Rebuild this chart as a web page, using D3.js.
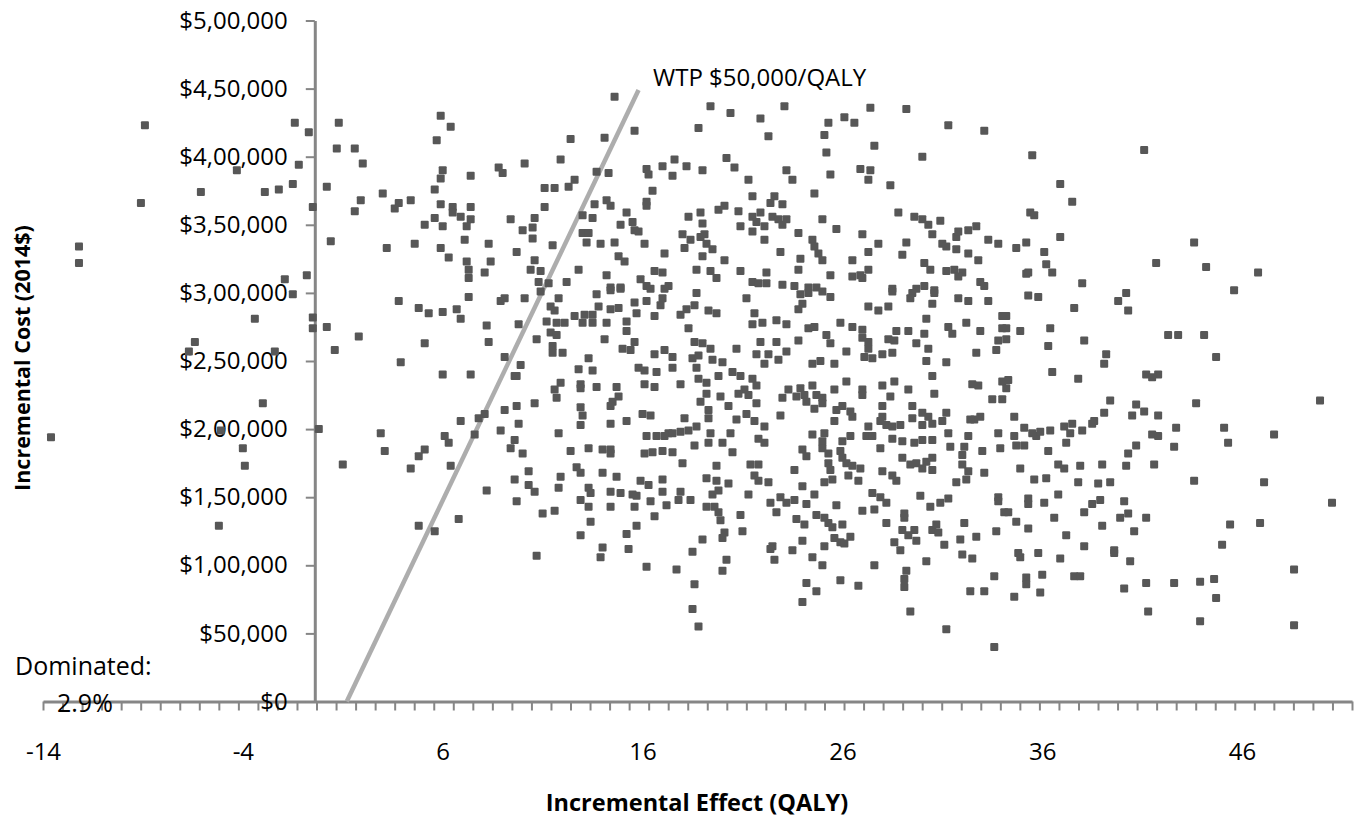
<!DOCTYPE html>
<html><head><meta charset="utf-8">
<script src="https://cdn.jsdelivr.net/npm/d3@7"></script>
<style>
body{margin:0;background:#fff;}
svg{display:block;}
text{font-family:"Open Sans",sans-serif;fill:#000;}
</style>
</head><body>
<svg id="chart" width="1365" height="825"></svg>
<script>
// ---------- data ----------
const xTicks = [-14, -4, 6, 16, 26, 36, 46];
const yTicks = [0, 50000, 100000, 150000, 200000, 250000, 300000, 350000, 400000, 450000, 500000];
const yTickLabels = ["$0", "$50,000", "$1,00,000", "$1,50,000", "$2,00,000", "$2,50,000", "$3,00,000", "$3,50,000", "$4,00,000", "$4,50,000", "$5,00,000"];
const xTitle = "Incremental Effect (QALY)";
const yTitle = "Incremental Cost (2014$)";
const wtpLabel = "WTP $50,000/QALY";
const dominatedLabel = ["Dominated:", "2.9%"];
// WTP threshold line end points [effect, cost]
const wtpLine = [[1.2, 0], [15.8, 449000]];
// simulated points [effect QALY, cost in $ thousands]
const dominatedPoints = [
[-8.9,423],[-1.4,425],[-0.7,418],[-1.2,394],[-4.3,390],[-6.1,374],[-2.9,374],[-2.2,376],[-1.5,380],[-0.5,363],[-9.1,366],[-12.2,334],[-12.2,322],[-1.9,310],[-0.8,313],[-1.5,299],[-3.4,281],[-0.5,282],[-0.5,274],[-6.4,264],[-6.7,257],[-2.4,257],[-3.0,219],[-13.6,194],[-0.2,200],[-5.1,199],[-4.0,186],[-3.9,173],[-5.2,129]
];
const pointsLowEffect = [
[0.8,425],[0.7,406],[0.2,378],[0.4,338],[0.2,275],[0.6,258],[1.0,174],
[1.6,406],[2.0,395],[5.9,430],[6.4,422],[5.7,412],[14.6,444],[15.6,419],[12.4,413],[14.1,414],[11.9,398],[10.1,395],[8.8,392],[9.0,388],[6.0,390],[5.9,384],[7.4,386],[5.6,376],[3.0,373],[1.9,368],[1.6,360],[3.8,366],[3.6,362],[4.4,368],[5.9,365],[6.5,363],[6.5,359],[6.9,356],[7.4,363],[5.6,355],[6.0,349],[5.1,350],[7.4,354],[7.2,349],[7.1,339],[8.3,336],[5.9,333],[6.3,326],[7.2,323],[7.3,317],[7.3,311],[8.1,315],[8.4,323],[3.2,333],[4.6,336],[9.7,330],[9.4,354],[10.6,355],[10.5,348],[10.0,346],[10.5,340],[11.1,363],[11.1,377],[11.6,377],[12.3,378],[12.6,383],[11.5,335],[10.6,324],[10.4,317],[10.9,316],[10.8,308],[11.3,307],[12.2,308],[12.8,317],[13.7,389],[14.3,388],[13.6,365],[14.2,368],[14.4,364],[13.0,357],[13.5,355],[13.0,344],[13.3,344],[13.2,337],[13.9,336],[14.6,337],[14.9,350],[15.2,359],[15.5,352],[15.6,346],[15.8,345],[16.1,336],[17.1,329],[14.8,327],[15.1,323],[14.2,313],[14.4,304],[14.9,304],[15.9,310],[16.2,305],[16.6,316],[17.0,315],[17.3,305],[16.2,391],[16.3,387],[17.0,393],[16.5,375],[16.2,367],[16.2,364],
[3.8,294],[4.8,289],[5.3,285],[6.0,286],[6.7,288],[6.9,281],[7.3,297],[8.9,294],[9.1,296],[10.1,296],[8.2,276],[9.8,277],[8.3,264],[1.8,268],[5.1,263],[3.9,249],[9.1,253],[9.9,247],[9.6,239],[9.7,239],[6.0,240],[7.4,240],[10.9,301],[11.8,296],[11.4,290],[11.6,287],[11.2,279],[11.7,278],[12.1,278],[12.6,283],[13.1,284],[13.5,284],[13.0,278],[13.5,278],[14.2,278],[13.8,290],[13.7,299],[14.4,288],[14.8,289],[14.4,302],[14.9,303],[15.6,293],[15.7,285],[16.2,294],[16.6,283],[16.4,303],[17.1,303],[17.0,296],[16.9,291],[15.2,279],[15.2,272],[14.1,266],[10.7,266],[11.4,271],[11.7,269],[11.5,261],[11.5,256],[12.0,256],[15.0,259],[15.4,258],[15.6,264],[16.6,255],[17.1,258],[13.3,252],[12.8,244],[13.5,243],[15.8,245],[16.1,243],[16.7,242],[11.9,234],[11.6,229],[11.7,223],[12.9,233],[12.9,230],[13.7,231],[14.7,231],[14.8,224],[14.5,220],[14.4,217],[16.1,233],[16.6,231],[12.9,216],[13.0,210],[12.9,203],[14.4,204],[15.2,206],[16.0,211],[16.4,210],[10.6,219],[9.7,217],[9.1,214],[8.1,211],[7.8,208],[6.9,206],[9.8,204],[8.9,199],[9.6,192],[9.4,186],[10.0,182],[7.6,196],[6.1,195],[6.3,190],[2.9,197],[3.1,184],[5.1,185],[4.8,180],[4.4,171],[6.4,173],[11.8,197],[12.4,184],[13.3,186],[14.0,185],[14.4,185],[14.4,182],[16.2,195],[16.7,195],[17.1,195],[17.3,197],[16.1,182],[16.5,183],[17.0,184],[12.7,172],[12.9,168],[14.0,168],[14.7,165],[10.3,169],[9.6,163],[10.3,159],[11.9,165],[15.9,162],[16.3,159],[17.0,163],
[8.2,155],[9.7,147],[10.6,154],[11.8,157],[11.0,138],[11.6,140],[13.3,157],[13.4,153],[12.9,148],[13.3,143],[14.4,154],[14.9,153],[14.4,143],[15.5,152],[15.7,151],[15.6,143],[17.0,154],[16.4,147],[17.2,144],[16.6,136],[15.7,129],[15.2,123],[15.3,112],[13.4,132],[12.9,122],[14.0,113],[13.9,106],[10.7,107],[16.2,99],[4.8,129],[5.6,125],[6.8,134]
];
const pointsMidEffect = [
[19.4,437],[20.4,432],[18.8,421],[21.9,428],[23.1,437],[22.3,415],[25.3,425],[25.1,416],[26.1,429],[26.6,425],[27.4,436],[29.2,435],[31.3,423],[33.1,419],[27.6,408],[25.2,403],[30.0,400],[17.6,398],[18.2,393],[17.5,386],[19.0,390],[20.2,399],[20.6,392],[21.3,383],[23.2,390],[23.5,383],[25.4,387],[26.9,391],[27.4,390],[27.3,383],[28.4,379],[21.5,371],[22.6,371],[22.4,366],[24.6,373],[23.0,365],[25.0,354],[25.7,347],[20.1,364],[19.8,361],[20.8,360],[18.3,356],[18.9,359],[19.0,351],[20.9,349],[21.5,356],[21.9,359],[21.7,352],[21.5,345],[22.1,349],[22.5,356],[22.8,354],[23.2,354],[23.0,350],[22.1,339],[18.0,343],[18.1,333],[18.4,339],[18.9,341],[19.1,343],[19.2,336],[19.5,332],[19.0,327],[20.1,324],[18.7,317],[19.4,316],[19.7,311],[20.9,316],[22.2,315],[21.5,308],[21.8,307],[22.2,307],[23.0,306],[23.6,305],[22.9,330],[23.8,344],[24.5,339],[24.6,334],[24.8,329],[25.0,324],[23.9,325],[23.8,317],[25.4,313],[24.3,304],[24.7,304],[26.5,324],[26.5,312],[26.9,313],[27.0,311],[27.3,317],[27.3,330],[27.8,336],[27.0,343],[28.8,359],[29.6,356],[30.0,354],[30.3,350],[30.9,353],[30.5,343],[29.2,337],[29.0,328],[30.1,322],[30.4,317],[31.0,336],[31.2,334],[31.7,332],[31.7,341],[31.8,345],[32.3,346],[32.7,349],[33.3,339],[33.8,336],[32.3,329],[32.8,324],[31.2,316],[31.6,317],[32.0,315],[31.8,312],[32.9,308],[33.1,305],[29.7,303],[30.1,305],[30.6,302],[28.5,303],
[18.7,300],[18.2,288],[17.9,284],[18.6,291],[19.3,287],[19.7,285],[18.3,274],[17.5,253],[17.5,245],[21.2,296],[21.6,285],[21.5,277],[22.0,278],[22.7,280],[23.2,277],[23.9,299],[24.0,292],[23.8,288],[24.3,300],[25.4,297],[25.0,301],[24.3,274],[24.6,275],[23.8,265],[25.2,269],[25.4,263],[21.9,264],[22.7,264],[21.7,255],[22.3,255],[23.2,257],[22.8,251],[22.1,248],[20.7,259],[18.6,264],[19.0,263],[19.4,259],[18.5,252],[18.8,254],[19.5,251],[20.0,249],[18.7,245],[18.8,237],[19.2,234],[19.2,226],[19.8,239],[20.5,242],[20.9,239],[17.9,233],[21.5,237],[21.7,232],[21.1,229],[20.8,226],[21.3,225],[21.7,219],[19.9,224],[20.3,217],[18.9,220],[19.3,214],[19.3,208],[18.1,208],[18.7,202],[18.3,199],[17.9,198],[17.5,197],[19.4,197],[20.4,197],[19.3,190],[20.0,190],[18.6,188],[20.5,183],[17.5,183],[18.0,175],[19.7,173],[21.2,211],[20.7,207],[21.6,206],[22.1,202],[21.8,193],[22.1,190],[21.4,174],[21.8,174],[21.6,166],[21.8,162],[22.3,161],[19.2,164],[19.7,162],[20.3,160],[22.9,210],[23.3,229],[23.0,223],[23.9,230],[23.7,224],[24.1,225],[24.2,220],[24.5,232],[24.7,225],[25.0,223],[24.6,215],[25.0,219],[25.6,229],[26.2,235],[25.7,214],[26.0,217],[26.4,213],[26.5,209],[25.6,206],[24.5,196],[25.1,197],[25.0,191],[25.0,186],[25.3,182],[24.0,185],[24.2,180],[25.3,175],[25.4,170],[25.1,161],[25.5,163],[25.9,184],[26.0,179],[26.0,191],[26.4,195],[26.2,175],[26.5,173],[26.9,171],[26.3,166],[26.8,162],[23.6,170],[24.0,158],[27.0,229],[27.0,225],[28.0,232],[28.6,235],[28.4,224],[29.3,229],[30.6,226],[28.0,217],[28.0,209],[27.9,206],[28.2,203],[28.5,202],[28.9,203],[27.3,202],[27.2,195],[27.5,195],[28.5,193],[29.0,191],[29.6,190],[30.0,192],[30.5,192],[27.9,186],[29.5,217],[29.5,208],[30.0,212],[30.3,209],[30.0,203],[30.5,204],[31.0,206],[31.2,212],[31.3,197],[31.4,187],[29.0,179],[29.4,174],[29.7,175],[30.2,176],[30.5,179],[30.0,171],[30.5,170],[28.0,169],[28.5,166],[28.7,162],[32.1,187],[32.0,181],[33.0,184],[32.3,195],[32.9,209],[32.6,207],[32.4,207],[32.0,174],[32.3,169],[33.1,168],[31.7,161],[32.2,163],[33.8,197],[33.9,186],[33.5,222],[34.0,222],[34.0,235],[32.5,233],[32.8,232],[31.2,249],[30.5,239],[30.2,250],[30.1,270],[29.7,263],[30.3,259],[30.2,281],[29.3,272],[28.7,272],[28.5,256],[28.3,266],[28.6,265],[27.5,252],[28.0,255],[27.3,259],[27.0,267],[27.3,264],[27.1,253],[26.5,275],[27.0,273],[25.9,278],[26.2,257],[25.6,248],[24.9,250],[24.5,248],[27.3,290],[27.8,287],[28.3,290],[28.5,301],[29.5,300],[29.4,296],[30.6,300],[30.5,292],[31.8,296],[32.3,294],[33.3,294],[31.3,275],[31.5,270],[32.2,278],[32.9,272],[34.0,283],[34.0,274],[33.8,265],[33.7,258],[32.7,256],
[17.9,154],[17.8,148],[18.4,148],[19.2,143],[19.6,143],[19.8,139],[19.9,133],[19.5,152],[19.8,155],[20.1,124],[20.0,120],[20.9,137],[21.0,125],[21.3,152],[19.0,119],[18.5,110],[17.7,97],[18.6,86],[18.5,68],[18.8,55],[20.2,104],[20.0,96],[22.4,146],[22.9,150],[23.2,146],[23.6,148],[22.7,139],[24.6,152],[24.2,145],[23.7,134],[24.1,130],[24.7,137],[25.1,135],[25.3,131],[25.5,128],[25.7,144],[26.0,130],[25.6,120],[25.9,117],[26.1,116],[26.4,121],[24.0,118],[25.1,114],[22.5,114],[22.4,112],[22.6,104],[23.5,111],[24.5,106],[25.0,100],[24.2,87],[24.7,81],[24.0,73],[25.9,89],[26.8,85],[27.0,140],[27.6,141],[27.5,153],[27.9,150],[28.2,146],[28.2,131],[27.6,100],[29.1,138],[29.1,135],[29.0,126],[29.6,126],[29.3,122],[29.7,118],[28.6,117],[28.9,111],[29.9,151],[30.4,143],[30.9,146],[31.3,149],[30.5,126],[30.7,130],[30.8,124],[31.1,115],[30.2,103],[29.2,96],[29.1,90],[29.1,84],[29.4,66],[31.2,53],[32.1,131],[31.9,119],[32.7,121],[32.0,108],[32.5,105],[32.4,81],[33.1,81],[33.6,92],[33.7,125],[33.8,150],[33.8,147],[34.1,139],[33.6,40]
];
const pointsHighEffect = [
[35.5,401],[41.1,405],[36.9,380],[37.5,367],[35.4,359],[35.6,357],[36.9,341],[35.2,337],[34.7,333],[36.1,330],[36.2,321],[36.5,315],[35.2,314],[35.3,315],[38.0,307],[43.6,337],[41.7,322],[44.2,319],[46.8,315],
[40.2,300],[39.8,294],[40.3,287],[45.6,302],[35.3,298],[35.8,297],[37.6,289],[34.2,283],[34.2,274],[34.2,266],[34.9,272],[36.4,274],[36.3,261],[38.1,265],[42.3,269],[42.8,269],[44.1,269],[44.7,253],[39.2,255],[39.1,248],[36.5,242],[37.8,237],[34.3,236],[34.2,230],[41.2,240],[41.8,240],[41.5,238],[39.4,221],[40.7,218],[41.1,213],[40.5,210],[41.8,210],[39.1,212],[38.6,206],[38.5,204],[43.7,219],[49.9,221],[34.6,209],[35.1,201],[34.6,195],[35.5,197],[35.7,195],[35.9,198],[36.4,199],[37.1,202],[37.5,204],[37.4,197],[38.0,199],[37.2,190],[34.7,188],[35.1,188],[36.3,184],[41.5,196],[41.8,195],[42.7,201],[42.6,187],[45.1,201],[45.3,190],[47.6,196],[40.7,188],[40.3,182],[41.6,174],[40.2,173],[39.0,174],[37.9,173],[36.8,174],[37.1,171],[34.9,171],[35.6,163],[36.2,164],[37.8,161],[38.8,160],[39.4,161],[43.6,162],[47.1,161],
[35.3,149],[35.3,145],[34.3,139],[34.7,132],[35.3,127],[36.1,146],[36.8,152],[36.6,135],[37.2,122],[38.1,139],[38.5,145],[38.9,148],[39.0,129],[40.1,147],[39.9,135],[40.3,138],[41.2,135],[40.6,125],[38.1,114],[39.6,111],[39.6,109],[40.4,103],[34.9,106],[34.8,109],[35.8,109],[36.9,105],[35.2,91],[35.2,86],[36.0,93],[37.6,92],[37.9,92],[34.6,77],[35.9,80],[40.1,83],[41.2,87],[42.6,87],[43.9,88],[44.6,90],[44.7,76],[41.3,66],[43.9,59],[45.4,130],[46.9,131],[45.0,115],[48.6,97],[48.6,56],[50.5,146]
];

// ---------- layout ----------
const svg = d3.select("#chart");
const axisColor = "#868686";
const x = d3.scaleLinear().domain([-14, 51.5]).range([43, 1352]);
const y = d3.scaleLinear().domain([0, 500000]).range([701.5, 20.5]);
const yAxisAt = -0.4;   // where the vertical axis is drawn
const minorCount = 68;
const minorTicks = d3.range(minorCount).map(i => x.invert(43 + i * (1352 - 43) / (minorCount - 1)));

// x axis: line + minor ticks
const gx = svg.append("g").attr("transform", `translate(0,${y(0)})`)
  .call(d3.axisBottom(x).tickValues(minorTicks).tickSize(9).tickSizeOuter(0).tickFormat(""));
gx.select(".domain").attr("stroke", axisColor).attr("stroke-width", 3);
gx.selectAll(".tick line").attr("stroke", axisColor).attr("stroke-width", 2);

// x axis labels (plain hyphen minus as in the original)
const gxl = svg.append("g").attr("transform", `translate(0,${y(0)})`)
  .call(d3.axisBottom(x).tickValues(xTicks).tickSize(0).tickPadding(41).tickFormat(d => String(d)));
gxl.select(".domain").remove();
gxl.selectAll("text").attr("font-size", 24).attr("font-family", "Open Sans").attr("fill", "#000");

// y axis
const gy = svg.append("g").attr("transform", `translate(${x(yAxisAt)},0)`)
  .call(d3.axisLeft(y).tickValues(yTicks).tickSize(9).tickSizeOuter(0).tickPadding(18)
    .tickFormat((d, i) => yTickLabels[i]));
gy.select(".domain").attr("stroke", axisColor).attr("stroke-width", 3);
gy.selectAll(".tick line").attr("stroke", axisColor).attr("stroke-width", 2);
gy.selectAll("text").attr("font-size", 24).attr("font-family", "Open Sans").attr("fill", "#000");

// axis titles
svg.append("text").attr("x", 697).attr("y", 811).attr("text-anchor", "middle")
  .attr("font-size", 23.5).attr("font-weight", "bold").text(xTitle);
svg.append("text").attr("transform", "translate(30,358) rotate(-90)").attr("text-anchor", "middle")
  .attr("font-size", 21.5).attr("font-weight", "bold").text(yTitle);

// annotations
svg.append("text").attr("x", 15).attr("y", 675).attr("font-size", 25).text(dominatedLabel[0]);
svg.append("text").attr("x", 57).attr("y", 712).attr("font-size", 25).text(dominatedLabel[1]);
svg.append("text").attr("x", 653).attr("y", 86).attr("font-size", 24).text(wtpLabel);

// WTP line
svg.append("path").datum(wtpLine)
  .attr("d", d3.line().x(d => x(d[0])).y(d => y(d[1])))
  .attr("stroke", "#adadad").attr("stroke-width", 4.5).attr("fill", "none");

// points
const allPoints = dominatedPoints.concat(pointsLowEffect, pointsMidEffect, pointsHighEffect);
const s = 8;
svg.append("g").selectAll("rect").data(allPoints).join("rect")
  .attr("x", d => x(d[0]) - s / 2).attr("y", d => y(d[1] * 1000) - s / 2)
  .attr("width", s).attr("height", s).attr("rx", 1)
  .attr("fill", "#575757");
</script>
</body></html>
